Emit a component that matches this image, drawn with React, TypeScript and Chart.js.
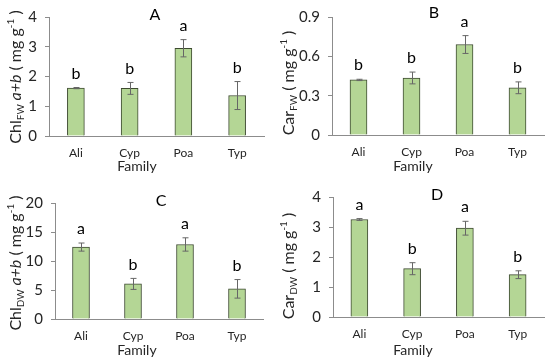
import React, { useEffect, useRef } from "react";
import { Chart, registerables } from "chart.js";

Chart.register(...registerables);

// ---------- data ----------
const families = ["Ali", "Cyp", "Poa", "Typ"];

const chlFwMean = [1.61, 1.6, 2.95, 1.36];
const chlFwErr = [0.02, 0.2, 0.29, 0.47];
const chlFwLetters = ["b", "b", "a", "b"];

const carFwMean = [0.42, 0.435, 0.69, 0.36];
const carFwErr = [0.005, 0.045, 0.068, 0.045];
const carFwLetters = ["b", "b", "a", "b"];

const chlDwMean = [12.4, 6.05, 12.85, 5.2];
const chlDwErr = [0.7, 0.95, 1.15, 1.6];
const chlDwLetters = ["a", "b", "a", "b"];

const carDwMean = [3.25, 1.61, 2.96, 1.41];
const carDwErr = [0.03, 0.2, 0.23, 0.13];
const carDwLetters = ["a", "b", "a", "b"];

const yMaxes = [4, 0.9, 20, 4];
const ySteps = [1, 0.3, 5, 1];
const panelLetters = ["A", "B", "C", "D"];
const xAxisTitle = "Family";

type Part = { t: string; k?: "sub" | "sup" | "it" };
const titleA: Part[] = [{ t: "Chl" }, { t: "FW", k: "sub" }, { t: " a+b", k: "it" }, { t: " ( mg g" }, { t: "-1", k: "sup" }, { t: " )" }];
const titleB: Part[] = [{ t: "Car" }, { t: "FW", k: "sub" }, { t: " ( mg g" }, { t: "-1", k: "sup" }, { t: " )" }];
const titleC: Part[] = [{ t: "Chl" }, { t: "DW", k: "sub" }, { t: " a+b", k: "it" }, { t: " ( mg g" }, { t: "-1", k: "sup" }, { t: " )" }];
const titleD: Part[] = [{ t: "Car" }, { t: "DW", k: "sub" }, { t: " ( mg g" }, { t: "-1", k: "sup" }, { t: " )" }];

// ---------- layout / style ----------
const FONT = "Lato, 'Open Sans', sans-serif";
const BAR_FILL = "#b4d695";
const BAR_BORDER = "#3d4a30";
const AXIS_GRAY = "#8c8c8c";
const ERR_GRAY = "#666666";
const TEXT = "#262626";
const X_AXIS_H = 30;

const panels = [
  { mean: chlFwMean, err: chlFwErr, letters: chlFwLetters, title: titleA, box: { x: 0, y: 0, w: 275, h: 180 }, L: 49, R: 264, T: 17, B: 136, titlePos: [15, 77], letterPos: [155, 15], famPos: [137, 166] },
  { mean: carFwMean, err: carFwErr, letters: carFwLetters, title: titleB, box: { x: 275, y: 0, w: 275, h: 180 }, L: 57, R: 269, T: 14, B: 135, titlePos: [13, 83], letterPos: [159, 13], famPos: [138, 166] },
  { mean: chlDwMean, err: chlDwErr, letters: chlDwLetters, title: titleC, box: { x: 0, y: 180, w: 275, h: 181 }, L: 55, R: 263, T: 23, B: 139, titlePos: [15, 83], letterPos: [161, 21], famPos: [137, 170] },
  { mean: carDwMean, err: carDwErr, letters: carDwLetters, title: titleD, box: { x: 275, y: 180, w: 275, h: 181 }, L: 58, R: 269, T: 16, B: 137, titlePos: [13, 86], letterPos: [162, 15], famPos: [138, 170] },
];

function drawRichTitle(ctx: CanvasRenderingContext2D, parts: Part[], cx: number, cy: number) {
  const big = 16, small = 10;
  const fontFor = (p: Part) =>
    p.k === "it" ? `italic ${big}px ${FONT}` : p.k === "sub" || p.k === "sup" ? `${small}px ${FONT}` : `${big}px ${FONT}`;
  let total = 0;
  const widths = parts.map((p) => {
    ctx.font = fontFor(p);
    const w = ctx.measureText(p.t).width;
    total += w;
    return w;
  });
  ctx.save();
  ctx.translate(cx, cy);
  ctx.rotate(-Math.PI / 2);
  ctx.fillStyle = TEXT;
  ctx.textBaseline = "alphabetic";
  ctx.textAlign = "left";
  let x = -total / 2;
  const base = 6;
  parts.forEach((p, i) => {
    ctx.font = fontFor(p);
    const dy = p.k === "sub" ? 3 : p.k === "sup" ? -7 : 0;
    ctx.fillText(p.t, x, base + dy);
    x += widths[i];
  });
  ctx.restore();
}

function Panel({ idx }: { idx: number }) {
  const ref = useRef<HTMLCanvasElement>(null);
  const p = panels[idx];
  useEffect(() => {
    if (!ref.current) return;
    const overlay = {
      id: "overlay" + idx,
      afterDatasetsDraw(chart: any) {
        const ctx: CanvasRenderingContext2D = chart.ctx;
        const xs = chart.scales.x;
        const ys = chart.scales.y;
        ctx.save();
        // error bars
        ctx.strokeStyle = ERR_GRAY;
        ctx.lineWidth = 1;
        p.mean.forEach((m, i) => {
          const x = Math.round(xs.getPixelForValue(i)) + 0.5;
          const yt = ys.getPixelForValue(m + p.err[i]);
          const yb = ys.getPixelForValue(m - p.err[i]);
          ctx.beginPath();
          ctx.moveTo(x, yt);
          ctx.lineTo(x, yb);
          ctx.moveTo(x - 3, yt);
          ctx.lineTo(x + 3, yt);
          ctx.moveTo(x - 3, yb);
          ctx.lineTo(x + 3, yb);
          ctx.stroke();
        });
        // significance letters
        ctx.fillStyle = "#000";
        ctx.font = `16px ${FONT}`;
        ctx.textAlign = "center";
        ctx.textBaseline = "middle";
        p.mean.forEach((m, i) => {
          const x = xs.getPixelForValue(i);
          const yt = ys.getPixelForValue(m + p.err[i]);
          ctx.fillText(p.letters[i], x, yt - 14);
        });
        // panel letter
        ctx.fillText(panelLetters[idx], p.letterPos[0], p.letterPos[1]);
        // x axis title
        ctx.fillStyle = TEXT;
        ctx.font = `14px ${FONT}`;
        ctx.fillText(xAxisTitle, p.famPos[0], p.famPos[1]);
        ctx.restore();
        drawRichTitle(ctx, p.title, p.titlePos[0], p.titlePos[1]);
      },
    };
    const chart = new Chart(ref.current, {
      type: "bar",
      data: {
        labels: families,
        datasets: [
          {
            data: p.mean,
            backgroundColor: BAR_FILL,
            borderColor: BAR_BORDER,
            borderWidth: 1,
            barThickness: 17,
          },
        ],
      },
      options: {
        responsive: false,
        animation: false,
        devicePixelRatio: 1,
        layout: {
          padding: { left: 0, top: p.T, right: p.box.w - p.R, bottom: p.box.h - p.B - X_AXIS_H },
        },
        plugins: { legend: { display: false }, tooltip: { enabled: false }, title: { display: false } },
        scales: {
          x: {
            offset: true,
            grid: { display: true, drawOnChartArea: false, drawTicks: false },
            border: { display: true, color: AXIS_GRAY, width: 1 },
            ticks: { color: TEXT, font: { family: FONT, size: 12 }, padding: 10 },
            afterFit: (s: any) => {
              s.height = X_AXIS_H;
            },
          },
          y: {
            min: 0,
            max: yMaxes[idx],
            ticks: { stepSize: ySteps[idx], color: TEXT, font: { family: FONT, size: 15 }, padding: 8 },
            grid: { drawOnChartArea: false, drawTicks: true, tickLength: 4, color: AXIS_GRAY },
            border: { display: true, color: AXIS_GRAY, width: 1 },
            afterFit: (s: any) => {
              s.width = p.L;
            },
          },
        },
      },
      plugins: [overlay],
    });
    return () => chart.destroy();
  }, [idx]);
  return (
    <canvas
      ref={ref}
      width={p.box.w}
      height={p.box.h}
      style={{ position: "absolute", left: p.box.x, top: p.box.y, width: p.box.w, height: p.box.h }}
    />
  );
}

export default function App() {
  return (
    <div style={{ position: "fixed", left: 0, top: 0, width: 550, height: 361, background: "#fff", overflow: "hidden" }}>
      {panels.map((_, i) => (
        <Panel key={i} idx={i} />
      ))}
    </div>
  );
}
